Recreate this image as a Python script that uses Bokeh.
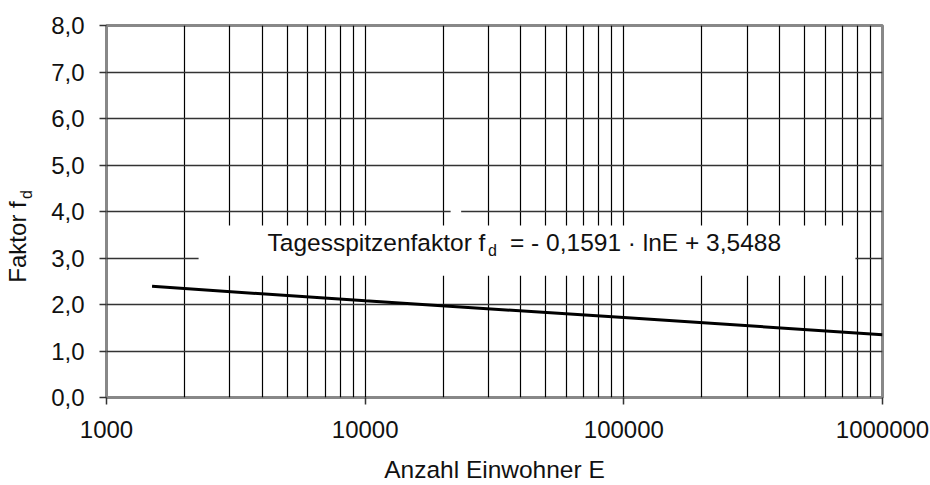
import math
from bokeh.plotting import figure
from bokeh.layouts import row
from bokeh.models import FixedTicker, CustomJSTickFormatter, BoxAnnotation, Label, Range1d
from bokeh.embed import file_html
from bokeh.resources import INLINE

# data
einwohner = [1500, 10000, 100000, 1000000]
faktor = [2.39, 2.08, 1.72, 1.35]

x_major = [1000, 10000, 100000, 1000000]
x_minor = [2000, 3000, 4000, 5000, 6000, 7000, 8000, 9000,
           20000, 30000, 40000, 50000, 60000, 70000, 80000, 90000,
           200000, 300000, 400000, 500000, 600000, 700000, 800000, 900000]
y_ticks = [0, 1, 2, 3, 4, 5, 6, 7, 8]

FONT = "Liberation Sans"
TXT = "#111111"

# ---- narrow figure that only carries the rotated y-axis title ----
p0 = figure(width=40, height=485, x_range=Range1d(0, 40), y_range=Range1d(0, 8),
            output_backend="svg", toolbar_location=None,
            x_axis_location=None, y_axis_location=None,
            min_border=0, min_border_left=0, min_border_right=0,
            min_border_top=25, min_border_bottom=88)
p0.outline_line_color = None
p0.grid.visible = False
p0.background_fill_color = "white"
p0.border_fill_color = "white"
p0.add_layout(Label(x=17, y=2.47, text="Faktor f", text_font=FONT, text_font_size="24px",
                    text_color=TXT, text_baseline="alphabetic", text_align="left",
                    angle=math.pi / 2))
p0.add_layout(Label(x=26, y=4.27, text="d", text_font=FONT, text_font_size="16px",
                    text_color=TXT, text_baseline="alphabetic", text_align="left",
                    angle=math.pi / 2))

# ---- main chart ----
p = figure(width=890, height=485, x_axis_type="log",
           x_range=Range1d(1000, 1000000), y_range=Range1d(0, 8),
           output_backend="svg", toolbar_location=None,
           min_border_left=66, min_border_right=48,
           min_border_top=25, min_border_bottom=88)

p.background_fill_color = "white"
p.border_fill_color = "white"
p.outline_line_color = "#888888"
p.outline_line_width = 3

# x axis
xa = p.xaxis[0]
xa.ticker = FixedTicker(ticks=x_major, minor_ticks=x_minor)
xa.formatter = CustomJSTickFormatter(code="return String(Math.round(tick));")
xa.major_label_text_font = FONT
xa.major_label_text_font_size = "24px"
xa.major_label_text_color = TXT
xa.major_label_standoff = 16
xa.major_tick_out = 7
xa.major_tick_in = 0
xa.major_tick_line_color = "#333333"
xa.major_tick_line_width = 1.5
xa.minor_tick_out = 0
xa.minor_tick_in = 0
xa.axis_line_color = None
xa.axis_label = "Anzahl Einwohner E"
xa.axis_label_text_font = FONT
xa.axis_label_text_font_size = "24.5px"
xa.axis_label_text_font_style = "normal"
xa.axis_label_text_color = TXT
xa.axis_label_standoff = 15

# y axis
ya = p.yaxis[0]
ya.ticker = FixedTicker(ticks=y_ticks)
ya.formatter = CustomJSTickFormatter(code="return tick.toFixed(1).replace('.', ',');")
ya.major_label_text_font = FONT
ya.major_label_text_font_size = "24px"
ya.major_label_text_color = TXT
ya.major_label_standoff = 15
ya.major_tick_out = 7
ya.major_tick_in = 0
ya.major_tick_line_color = "#333333"
ya.major_tick_line_width = 1.5
ya.minor_tick_out = 0
ya.minor_tick_in = 0
ya.axis_line_color = None

# grid
p.xgrid.grid_line_color = "black"
p.xgrid.grid_line_width = 1.2
p.xgrid.minor_grid_line_color = "black"
p.xgrid.minor_grid_line_width = 1.2
p.ygrid.grid_line_color = "#333333"
p.ygrid.grid_line_width = 1.5

# trend line
p.line(einwohner, faktor, line_width=3, line_color="black")

# white box behind the formula
p.add_layout(BoxAnnotation(left=2270, right=786000, bottom=2.62, top=3.70,
                           fill_color="white", fill_alpha=1.0,
                           line_color=None, level="overlay"))
p.add_layout(BoxAnnotation(left=21400, right=23500, bottom=3.95, top=4.05,
                           fill_color="white", fill_alpha=1.0,
                           line_color=None, level="overlay"))

def lab(x, y, text, size="24.5px"):
    p.add_layout(Label(x=x, y=y, text=text, text_font=FONT, text_font_size=size,
                       text_color=TXT, text_baseline="alphabetic", text_align="left",
                       level="overlay"))

# formula text
lab(4193, 3.34, "Tagesspitzenfaktor f")
lab(29840, 3.17, "d", size="16px")
lab(36300, 3.34, "= - 0,1591 \u00b7 lnE + 3,5488")

open("out.html", "w").write(file_html(row(p0, p), INLINE))
